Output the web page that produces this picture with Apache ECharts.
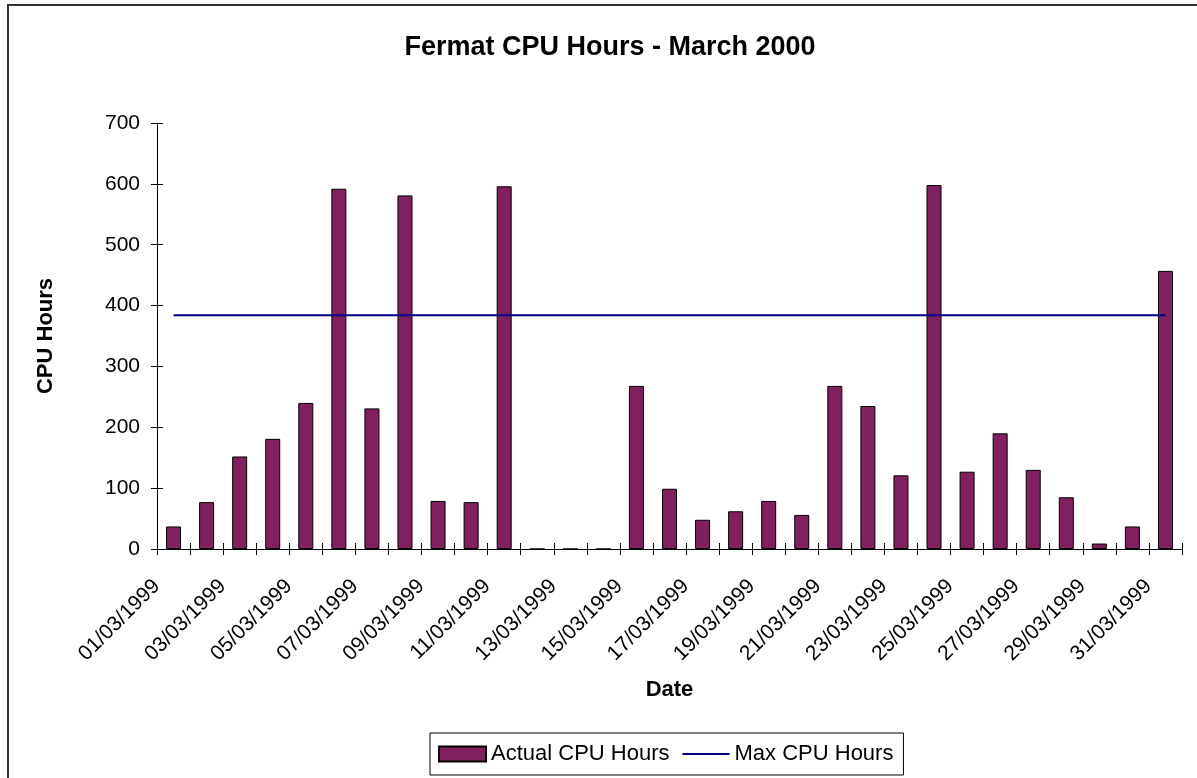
<!DOCTYPE html>
<html>
<head>
    <meta charset="utf-8">
    <script src="https://cdn.jsdelivr.net/npm/echarts@6/dist/echarts.min.js"></script>
</head>
<body style="margin:0; background-color:#ffffff">
    <div id="main" style="width: 1197px;height:778px;"></div>
    <script type="text/javascript">

        var dates = ['01/03/1999','02/03/1999','03/03/1999','04/03/1999','05/03/1999','06/03/1999','07/03/1999','08/03/1999',
            '09/03/1999','10/03/1999','11/03/1999','12/03/1999','13/03/1999','14/03/1999','15/03/1999','16/03/1999',
            '17/03/1999','18/03/1999','19/03/1999','20/03/1999','21/03/1999','22/03/1999','23/03/1999','24/03/1999',
            '25/03/1999','26/03/1999','27/03/1999','28/03/1999','29/03/1999','30/03/1999','31/03/1999'];
        var actualHours = [37, 77, 152, 181, 240, 592, 231, 581, 79, 77, 596, 0, 0, 0, 268, 99,
            48, 62, 79, 56, 268, 235, 121, 598, 127, 190, 130, 85, 9, 37, 457];
        var maxHours = [384, 384, 384, 384, 384, 384, 384, 384, 384, 384, 384, 384, 384, 384, 384, 384,
            384, 384, 384, 384, 384, 384, 384, 384, 384, 384, 384, 384, 384, 384, 384];

        var font = 'Liberation Sans, Arial, sans-serif';
        var myChart = echarts.init(document.getElementById('main'));

        var option = {
            animation: false,
            textStyle: {fontFamily: font, color: '#000'},
            graphic: [{
                type: 'rect',
                shape: {x: 8, y: 5, width: 1300, height: 900},
                style: {fill: 'none', stroke: '#333', lineWidth: 2},
                silent: true
            }],
            title: {
                text: 'Fermat CPU Hours - March 2000',
                left: 605,
                top: 29,
                textAlign: 'center',
                textStyle: {fontFamily: font, fontSize: 27, fontWeight: 'bold', color: '#000'}
            },
            legend: {
                left: 430,
                top: 733,
                padding: [10, 10, 10, 8],
                borderColor: '#000',
                borderWidth: 1,
                itemWidth: 47,
                itemHeight: 15,
                itemGap: 13,
                textStyle: {fontFamily: font, fontSize: 22, color: '#000'},
                data: [
                    {name: 'Actual CPU Hours', icon: 'rect'},
                    {name: 'Max CPU Hours', icon: 'path://M0,0 L47,0 L47,2 L0,2 Z'}
                ]
            },
            grid: {left: 157, right: 15, top: 123, bottom: 229},
            xAxis: [{
                type: 'category',
                data: dates,
                name: 'Date',
                nameLocation: 'middle',
                nameGap: 130,
                nameTextStyle: {fontFamily: font, fontSize: 22, fontWeight: 'bold', color: '#000'},
                axisLine: {lineStyle: {color: '#000', width: 1}},
                axisTick: {show: true, interval: 0, length: 6, lineStyle: {color: '#000'}},
                axisLabel: {
                    interval: 1,
                    rotate: 45,
                    margin: 17,
                    fontFamily: font,
                    fontSize: 21,
                    color: '#000',
                    // trailing spacer pushes the rotated text down-left, as in the original
                    formatter: function (v) { return '{t|' + v + '}{s|\u00a0}'; },
                    rich: {
                        t: {fontFamily: font, fontSize: 21, color: '#000'},
                        s: {width: 24, fontSize: 21}
                    }
                }
            }, {
                type: 'category',
                data: dates,
                position: 'bottom',
                axisLine: {show: false},
                axisTick: {show: true, inside: true, interval: 0, length: 6, lineStyle: {color: '#000'}},
                axisLabel: {show: false}
            }],
            yAxis: [{
                type: 'value',
                min: 0,
                max: 700,
                interval: 100,
                name: 'CPU Hours',
                nameLocation: 'middle',
                nameGap: 100,
                nameTextStyle: {fontFamily: font, fontSize: 22, fontWeight: 'bold', color: '#000'},
                splitLine: {show: false},
                axisLine: {show: true, lineStyle: {color: '#000', width: 1}},
                axisTick: {show: true, length: 6, lineStyle: {color: '#000'}},
                axisLabel: {margin: 17, fontFamily: font, fontSize: 21, color: '#000'}
            }, {
                type: 'value',
                min: 0,
                max: 700,
                interval: 100,
                position: 'left',
                splitLine: {show: false},
                axisLine: {show: false},
                axisTick: {show: true, inside: true, length: 6, lineStyle: {color: '#000'}},
                axisLabel: {show: false}
            }],
            series: [{
                name: 'Actual CPU Hours',
                type: 'bar',
                data: actualHours,
                barWidth: 15,
                itemStyle: {color: '#80205f', borderColor: '#000', borderWidth: 1}
            }, {
                name: 'Max CPU Hours',
                type: 'line',
                data: maxHours,
                symbol: 'none',
                lineStyle: {color: '#000080', width: 2},
                itemStyle: {color: '#000080'}
            }]
        };

        myChart.setOption(option);
    </script>
</body>
</html>
